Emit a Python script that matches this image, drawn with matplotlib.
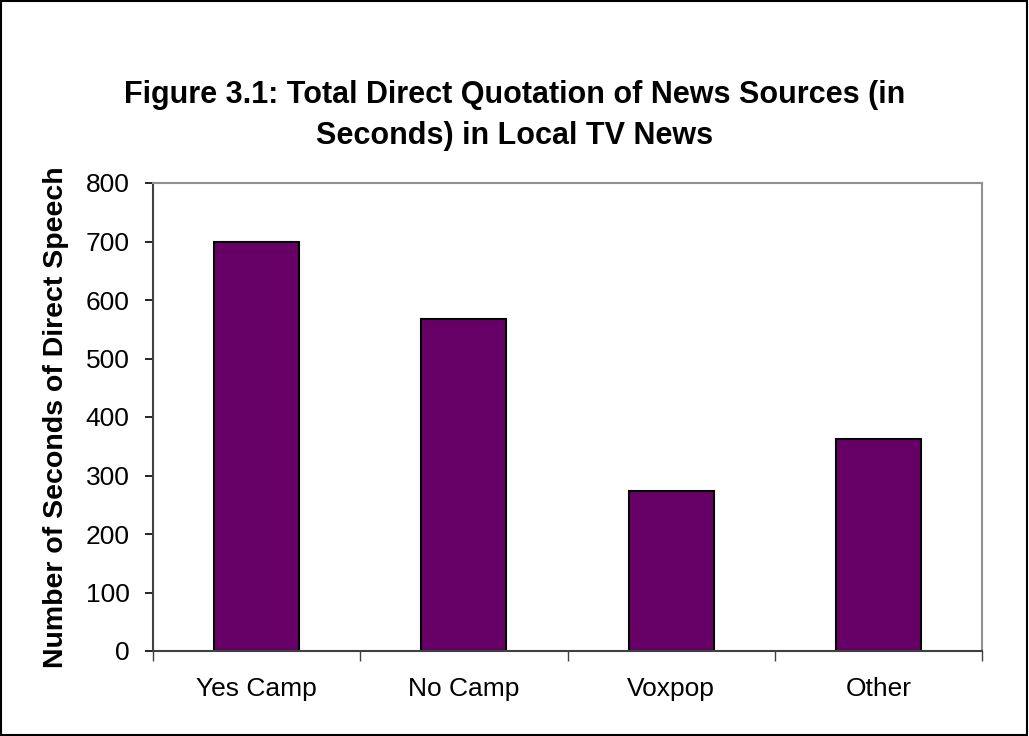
import matplotlib.pyplot as plt
import numpy as np

plt.rcParams['font.family'] = ['Liberation Sans', 'DejaVu Sans']

categories = ['Yes Camp', 'No Camp', 'Voxpop', 'Other']
seconds = [700, 568, 274, 363]

W, H = 1029, 736
fig = plt.figure(figsize=(W / 100, H / 100), dpi=100)
ax = fig.add_axes([153 / W, 1 - 651 / H, 829 / W, (651 - 183) / H])

x = np.arange(len(categories))
ax.bar(x, seconds, width=0.41, color='#660066', edgecolor='black', linewidth=1.5)

ax.set_xlim(-0.5, len(categories) - 0.5)
ax.set_ylim(0, 800)
ax.set_yticks(range(0, 801, 100))
ax.set_xticks(x)
ax.set_xticklabels(categories)
ax.set_xticks(np.arange(-0.5, len(categories), 1), minor=True)
ax.tick_params(axis='x', which='major', length=0, pad=19, labelsize=19)
ax.tick_params(axis='x', which='minor', length=7, width=1, color='#404040', direction='out')
ax.tick_params(axis='y', length=6, width=1.2, color='black', direction='out', labelsize=19, pad=11)

for side in ['left', 'bottom']:
    ax.spines[side].set_color('#404040')
    ax.spines[side].set_linewidth(1.5)
for side in ['top', 'right']:
    ax.spines[side].set_color('#909090')
    ax.spines[side].set_linewidth(1.5)

ax.set_ylabel('Number of Seconds of Direct Speech', fontsize=20.5, fontweight='bold', labelpad=12)

fig.text(0.5, 1 - 95 / H, 'Figure 3.1: Total Direct Quotation of News Sources (in',
         ha='center', va='center', fontsize=22, fontweight='bold')
fig.text(0.5, 1 - 136 / H, 'Seconds) in Local TV News',
         ha='center', va='center', fontsize=22, fontweight='bold')

# border round the whole chart
fig.add_artist(plt.Rectangle((0.001, 0.001), 0.997, 0.997, transform=fig.transFigure,
                             fill=False, edgecolor='black', linewidth=1.5))

fig.savefig('out.png', dpi=100)
